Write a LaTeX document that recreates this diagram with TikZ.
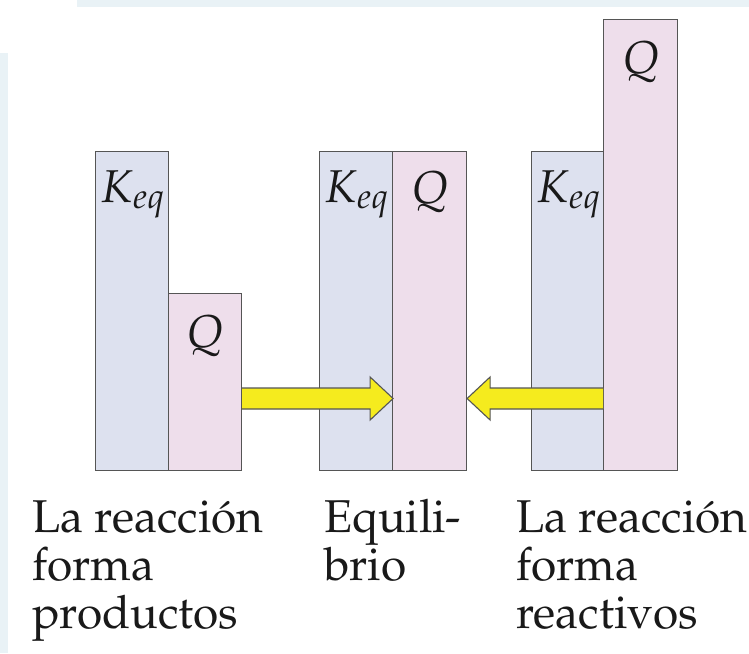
\documentclass[tikz,border=0pt]{standalone}
\usepackage[T1]{fontenc}
\usepackage{mathpazo}
\usetikzlibrary{calc}
\definecolor{bandc}{RGB}{233,242,246}
\definecolor{kcol}{RGB}{221,225,239}
\definecolor{qcol}{RGB}{238,222,235}
\definecolor{edgec}{RGB}{85,85,85}
\definecolor{arrowy}{RGB}{245,235,30}
\definecolor{inkc}{RGB}{25,25,25}
\tikzset{
  bar/.style={draw=edgec, line width=1.1pt, rectangle, inner sep=0pt, minimum width=73pt, anchor=south west},
  kbar/.style={bar, fill=kcol},
  qbar/.style={bar, fill=qcol},
  sym/.style={inner sep=0pt, text=inkc, font=\fontsize{46}{48}\selectfont},
  lab/.style={inner sep=0pt, anchor=base west, text=inkc, font=\fontsize{46}{48}\selectfont},
  arrowfill/.style={fill=arrowy},
  arrowline/.style={draw=edgec, line width=1.1pt, line join=miter}
}
\begin{document}
\begin{tikzpicture}[x=1pt, y=-1pt]
\useasboundingbox (0,0) rectangle (749,653);
% background bands
\fill[bandc] (77,0) rectangle (749,7);
\fill[bandc] (0,53) rectangle (8,653);

% bars
\node[kbar, minimum height=319pt] (k1) at (95,471) {};
\node[qbar, minimum height=177pt] (q1) at (168,471) {};
\node[kbar, minimum height=319pt] (k2) at (319,471) {};
\node[qbar, minimum height=319pt, minimum width=74pt] (q2) at (392,471) {};
\node[kbar, minimum height=319pt, minimum width=72pt] (k3) at (531,471) {};
\node[qbar, minimum height=451pt, minimum width=74pt] (q3) at (603,471) {};

% bar labels
\node[sym, anchor=base west] (kl1) at (101,202) {$K_{eq}$};
\node[sym, anchor=base] (ql1) at (205,347) {$Q$};
\node[sym, anchor=base west] (kl2) at (325,202) {$K_{eq}$};
\node[sym, anchor=base] (ql2) at (430,203) {$Q$};
\node[sym, anchor=base west] (kl3) at (537,202) {$K_{eq}$};
\node[sym, anchor=base] (ql3) at (641,73) {$Q$};

% arrow levels
\coordinate (ay) at (0,398.5);
\coordinate (ra) at (q1.east |- ay);
\coordinate (rb) at (k2.east |- ay);
\coordinate (la) at (q3.west |- ay);
\coordinate (lb) at (q2.east |- ay);

% right-pointing arrow
\fill[arrowfill] ($(ra)+(0,-10.5)$) -- ($(rb)+(-23,-10.5)$) -- ($(rb)+(-23,-21.5)$) -- (rb)
  -- ($(rb)+(-23,21.5)$) -- ($(rb)+(-23,10.5)$) -- ($(ra)+(0,10.5)$) -- cycle;
\draw[arrowline] ($(ra)+(0,-10.5)$) -- ($(rb)+(-23,-10.5)$) -- ($(rb)+(-23,-21.5)$) -- (rb)
  -- ($(rb)+(-23,21.5)$) -- ($(rb)+(-23,10.5)$) -- ($(ra)+(0,10.5)$);
% left-pointing arrow
\fill[arrowfill] ($(la)+(0,-10.5)$) -- ($(lb)+(23,-10.5)$) -- ($(lb)+(23,-21.5)$) -- (lb)
  -- ($(lb)+(23,21.5)$) -- ($(lb)+(23,10.5)$) -- ($(la)+(0,10.5)$) -- cycle;
\draw[arrowline] ($(la)+(0,-10.5)$) -- ($(lb)+(23,-10.5)$) -- ($(lb)+(23,-21.5)$) -- (lb)
  -- ($(lb)+(23,21.5)$) -- ($(lb)+(23,10.5)$) -- ($(la)+(0,10.5)$);

% captions
\node[lab] (c1a) at (32,532) {La reacci\'on};
\node[lab] (c1b) at (32,580) {forma};
\node[lab] (c1c) at (32,628) {productos};
\node[lab] (c2a) at (324,532) {Equili-};
\node[lab] (c2b) at (324,580) {brio};
\node[lab] (c3a) at (516,532) {La reacci\'on};
\node[lab] (c3b) at (516,580) {forma};
\node[lab] (c3c) at (516,628) {reactivos};
\end{tikzpicture}
\end{document}
